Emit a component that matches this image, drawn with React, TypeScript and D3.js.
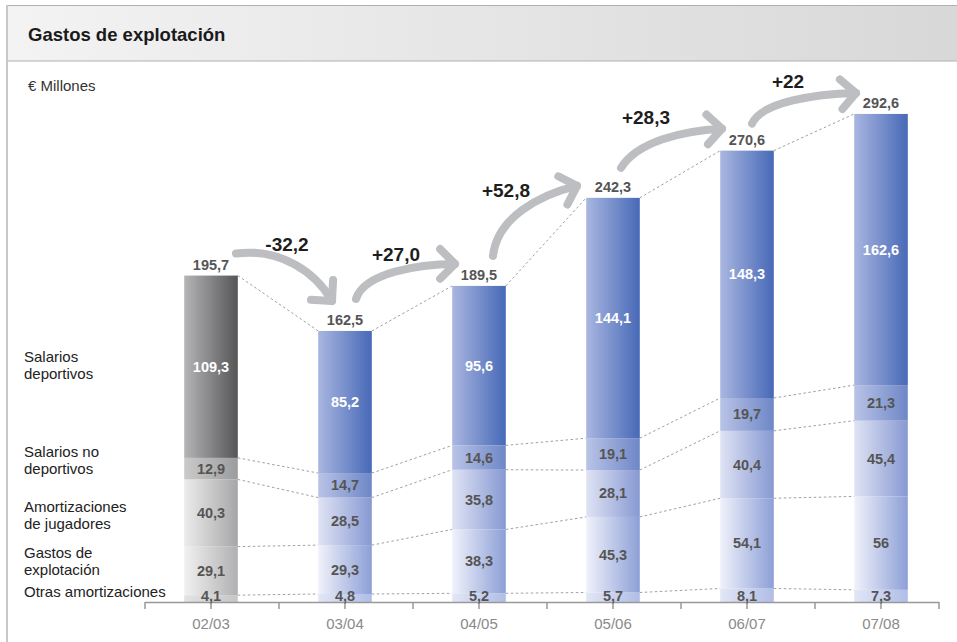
import React from 'react';
import * as d3 from 'd3';

const categories = ['02/03', '03/04', '04/05', '05/06', '06/07', '07/08'];
const otrasAmortizaciones = [4.1, 4.8, 5.2, 5.7, 8.1, 7.3];
const gastosExplotacion = [29.1, 29.3, 38.3, 45.3, 54.1, 56];
const amortizacionesJugadores = [40.3, 28.5, 35.8, 28.1, 40.4, 45.4];
const salariosNoDeportivos = [12.9, 14.7, 14.6, 19.1, 19.7, 21.3];
const salariosDeportivos = [109.3, 85.2, 95.6, 144.1, 148.3, 162.6];
const totals = [195.7, 162.5, 189.5, 242.3, 270.6, 292.6];
const deltaLabels = ['-32,2', '+27,0', '+52,8', '+28,3', '+22'];

const seriesKeys = ['otras', 'gastos', 'amort', 'salNo', 'salDep'];
const seriesValues = [otrasAmortizaciones, gastosExplotacion, amortizacionesJugadores, salariosNoDeportivos, salariosDeportivos];
const seriesNames = [
  ['Otras amortizaciones'],
  ['Gastos de', 'explotación'],
  ['Amortizaciones', 'de jugadores'],
  ['Salarios no', 'deportivos'],
  ['Salarios', 'deportivos'],
];

// styling / layout
const W = 957;
const H = 642;
const FONT = '"Liberation Sans", Arial, Helvetica, sans-serif';
const grayGrad = [
  ['#e2e2e2', '#c6c6c6'],
  ['#f1f1f1', '#b0b0b2'],
  ['#ececec', '#a6a6a8'],
  ['#cacaca', '#9c9c9e'],
  ['#b5b5b7', '#555557'],
];
const blueGrad = [
  ['#e2e6f6', '#b0bde6'],
  ['#f0f2fb', '#8c9fd6'],
  ['#dfe3f4', '#8799d2'],
  ['#b9c3e7', '#6e87c6'],
  ['#a9b6e0', '#4769b7'],
];
const legendBaselines = [[597], [558, 575], [512, 529], [457, 474], [362, 379]];
// arrow geometry offsets relative to bar tops (annotation layout)
const arrowLayout = [
  { s: [25, -22], c1: [45, -6], c2: [-16, -28], e: [-13, -30], head: 48, lab: [51, -3] },
  { s: [11, -32], c1: [8, -26], c2: [-36, 0], e: [-24, -22], head: 0, lab: [40, -38] },
  { s: [14, -30], c1: [4, -38], c2: [-38, 9], e: [-36, -12], head: -18, lab: [13, -59] },
  { s: [8, -30], c1: [16, -26], c2: [-40, 2], e: [-25, -22], head: -3, lab: [25, -44] },
  { s: [5, -27], c1: [10, -22], c2: [-40, 1], e: [-25, -21], head: -5, lab: [36, -36] },
];

const fmt = (v: number) => (Number.isInteger(v) ? String(v) : v.toFixed(1).replace('.', ','));

export default function App() {
  const x = d3.scaleBand<string>().domain(categories).range([145, 949]).paddingInner(0.6).paddingOuter(0.3);
  const y = d3.scaleLinear().domain([0, 300]).range([602, 602 - 300 * 1.668]);
  const bw = x.bandwidth();
  const step = x.step();
  const stacked = d3.stack<number>().keys(seriesKeys.map((_, i) => String(i))).value((idx, k) => seriesValues[+k][idx])(
    categories.map((_, i) => i)
  );

  const cx = (i: number) => (x(categories[i]) as number) + bw / 2 - 1;
  const bandStart = 145;

  const boundaries: number[][] = categories.map((_, i) => stacked.map((s) => s[i][1]));

  return (
    <svg width={W} height={H} style={{ position: 'absolute', left: 0, top: 0, fontFamily: FONT }}>
      <defs>
        <linearGradient id="hdr" x1="0" x2="1" y1="0" y2="0">
          <stop offset="0" stopColor="#f3f3f3" />
          <stop offset="1" stopColor="#d8d8d8" />
        </linearGradient>
        {seriesKeys.map((k, si) => (
          <React.Fragment key={k}>
            <linearGradient id={`g-${k}`} x1="0" x2="1" y1="0" y2="0">
              <stop offset="0" stopColor={grayGrad[si][0]} />
              <stop offset="1" stopColor={grayGrad[si][1]} />
            </linearGradient>
            <linearGradient id={`b-${k}`} x1="0" x2="1" y1="0" y2="0">
              <stop offset="0" stopColor={blueGrad[si][0]} />
              <stop offset="1" stopColor={blueGrad[si][1]} />
            </linearGradient>
          </React.Fragment>
        ))}
      </defs>
      <rect x={0} y={0} width={W} height={H} fill="#fff" />
      {/* header */}
      <rect x={7} y={5} width={W - 7} height={56} fill="url(#hdr)" />
      <line x1={7} x2={W} y1={5.5} y2={5.5} stroke="#b0b0b0" strokeWidth={1} />
      <line x1={7} x2={W} y1={61} y2={61} stroke="#b0b0b0" strokeWidth={1.2} />
      <line x1={7} x2={7} y1={5} y2={H} stroke="#c8c8c8" strokeWidth={2} />
      <text x={28} y={41} fontSize={18.5} fontWeight="bold" fill="#1a1a1a">Gastos de explotación</text>
      <text x={28} y={91} fontSize={15} fill="#333">€ Millones</text>

      {/* dashed connectors */}
      {categories.slice(0, -1).map((c, i) =>
        boundaries[i].map((b, k) => (
          <line
            key={`d-${i}-${k}`}
            x1={(x(c) as number) + bw - 1}
            x2={(x(categories[i + 1]) as number) - 1}
            y1={y(b)}
            y2={y(boundaries[i + 1][k])}
            stroke="#a0a0a0"
            strokeWidth={1}
            strokeDasharray="2.5,2.5"
          />
        ))
      )}

      {/* bars */}
      {stacked.map((s, si) =>
        s.map((d, i) => (
          <rect
            key={`r-${si}-${i}`}
            x={(x(categories[i]) as number) - 1}
            y={y(d[1])}
            width={bw}
            height={y(d[0]) - y(d[1])}
            fill={`url(#${i === 0 ? 'g' : 'b'}-${seriesKeys[si]})`}
          />
        ))
      )}

      {/* axis */}
      <line x1={bandStart} x2={939} y1={602.5} y2={602.5} stroke="#999" strokeWidth={1.5} />
      {d3.range(categories.length).map((i) => (
        <line key={`tb-${i}`} x1={bandStart + i * step} x2={bandStart + i * step} y1={602} y2={609} stroke="#999" strokeWidth={1.5} />
      ))}
      <line x1={939} x2={939} y1={602} y2={609} stroke="#999" strokeWidth={1.5} />
      {categories.map((c, i) => (
        <line key={`tc-${i}`} x1={cx(i)} x2={cx(i)} y1={602} y2={609} stroke="#999" strokeWidth={1.5} />
      ))}
      {categories.map((c, i) => (
        <text key={`xl-${i}`} x={cx(i)} y={629} textAnchor="middle" fontSize={15} fill="#8a8a8a">
          {c}
        </text>
      ))}

      {/* segment labels */}
      {stacked.map((s, si) =>
        s.map((d, i) => (
          <text
            key={`sl-${si}-${i}`}
            x={cx(i)}
            y={si === 0 ? y(0) - 1.5 : (y(d[0]) + y(d[1])) / 2 + 5}
            textAnchor="middle"
            fontSize={14.5}
            fontWeight="bold"
            fill={si === 4 ? '#ffffff' : '#555555'}
          >
            {fmt(seriesValues[si][i])}
          </text>
        ))
      )}
      {/* totals */}
      {totals.map((t, i) => (
        <text key={`t-${i}`} x={cx(i)} y={y(t) - 6} textAnchor="middle" fontSize={14.5} fontWeight="bold" fill="#555">
          {fmt(t)}
        </text>
      ))}

      {/* legend labels */}
      {seriesNames.map((lines, si) =>
        lines.map((ln, li) => (
          <text key={`lg-${si}-${li}`} x={24} y={legendBaselines[si][li]} fontSize={15} fill="#222">
            {ln}
          </text>
        ))
      )}

      {/* arrows */}
      {arrowLayout.map((a, i) => {
        const sx = cx(i) + a.s[0];
        const sy = y(totals[i]) + a.s[1];
        const ex = cx(i + 1) + a.e[0];
        const ey = y(totals[i + 1]) + a.e[1];
        const p = d3.path();
        p.moveTo(sx, sy);
        p.bezierCurveTo(sx + a.c1[0], sy + a.c1[1], ex + a.c2[0], ey + a.c2[1], ex, ey);
        const ang = (a.head * Math.PI) / 180;
        const L = 21;
        const a1 = ang + Math.PI - Math.PI / 4;
        const a2 = ang + Math.PI + Math.PI / 4;
        const head = `M${ex + L * Math.cos(a1)},${ey + L * Math.sin(a1)}L${ex},${ey}L${ex + L * Math.cos(a2)},${ey + L * Math.sin(a2)}`;
        return (
          <g key={`a-${i}`}>
            <path d={p.toString()} fill="none" stroke="#bdbec1" strokeWidth={8} strokeLinecap="round" />
            <path d={head} fill="none" stroke="#bdbec1" strokeWidth={8} strokeLinecap="round" strokeLinejoin="round" />
            <text x={sx + a.lab[0]} y={sy + a.lab[1]} textAnchor="middle" fontSize={19} fontWeight="bold" fill="#1e1e1e">
              {deltaLabels[i]}
            </text>
          </g>
        );
      })}
    </svg>
  );
}
